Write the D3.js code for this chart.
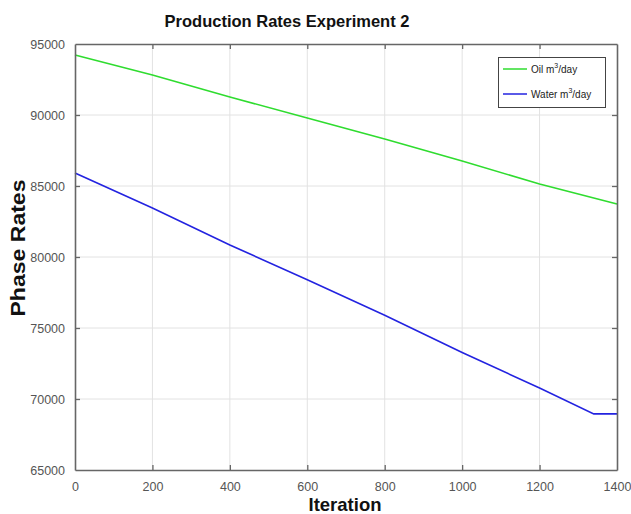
<!DOCTYPE html>
<html><head><meta charset="utf-8">
<script src="https://cdn.jsdelivr.net/npm/d3@7"></script>
<style>body{margin:0;background:#fff;} svg{display:block;}</style>
</head><body>
<script>
// Data
const iterations = [0, 200, 400, 600, 800, 1000, 1200, 1340, 1400];
const oilRates   = [94220, 92820, 91270, 89790, 88310, 86760, 85140, 84150, 83730];
const waterRates = [85920, 83450, 80850, 78400, 75900, 73280, 70770, 68950, 68950];
const xTicks = [0, 200, 400, 600, 800, 1000, 1200, 1400];
const yTicks = [65000, 70000, 75000, 80000, 85000, 90000, 95000];
const seriesNames = ["Oil", "Water"];
const seriesColors = ["#2fdc2f", "#2323e0"];

(function () {
const W = 631, H = 514;
const m = {left: 75, right: 14, top: 44, bottom: 44};
const svg = d3.select("body").append("svg").attr("width", W).attr("height", H)
  .style("font-family", "'Liberation Sans', Arial, sans-serif");

const x = d3.scaleLinear().domain([0, 1400]).range([m.left, W - m.right]);
const y = d3.scaleLinear().domain([65000, 95000]).range([H - m.bottom, m.top]);

// grid
svg.append("g").selectAll("line").data(xTicks.slice(1, -1)).join("line")
  .attr("x1", d => x(d)).attr("x2", d => x(d)).attr("y1", y(65000)).attr("y2", y(95000))
  .attr("stroke", "#e2e2e2").attr("stroke-width", 1);
svg.append("g").selectAll("line").data(yTicks.slice(1, -1)).join("line")
  .attr("y1", d => y(d)).attr("y2", d => y(d)).attr("x1", x(0)).attr("x2", x(1400))
  .attr("stroke", "#e2e2e2").attr("stroke-width", 1);

// lines
const line = d3.line().x((d, i) => x(iterations[i])).y(d => y(d));
[oilRates, waterRates].forEach((s, k) => {
  svg.append("path").datum(s).attr("d", line).attr("fill", "none")
    .attr("stroke", seriesColors[k]).attr("stroke-width", 1.6);
});

// axes (inward ticks, matlab style)
const axColor = "#666";
const gBottom = svg.append("g").attr("transform", `translate(0,${y(65000)})`)
  .call(d3.axisBottom(x).tickValues(xTicks).tickSizeInner(-5).tickSizeOuter(0).tickPadding(12).tickFormat(d3.format("d")));
const gTop = svg.append("g").attr("transform", `translate(0,${y(95000)})`)
  .call(d3.axisTop(x).tickValues(xTicks).tickSizeInner(-5).tickSizeOuter(0).tickFormat(""));
const gLeft = svg.append("g").attr("transform", `translate(${x(0)},0)`)
  .call(d3.axisLeft(y).tickValues(yTicks).tickSizeInner(-5).tickSizeOuter(0).tickPadding(10).tickFormat(d3.format("d")));
const gRight = svg.append("g").attr("transform", `translate(${x(1400)},0)`)
  .call(d3.axisRight(y).tickValues(yTicks).tickSizeInner(-5).tickSizeOuter(0).tickFormat(""));
[gBottom, gTop, gLeft, gRight].forEach(g => {
  g.select(".domain").attr("stroke", axColor).attr("stroke-width", 1.6);
  g.selectAll(".tick line").attr("stroke", axColor).attr("stroke-width", 1.3);
  g.selectAll(".tick text").attr("fill", "#555").style("font-size", "12.5px")
    .style("font-family", "'Liberation Sans', Arial, sans-serif");
});
[gBottom, gTop].forEach(g => g.selectAll(".tick line").filter(d => d === 0 || d === 1400).remove());
[gLeft, gRight].forEach(g => g.selectAll(".tick line").filter(d => d === 65000 || d === 95000).remove());

// title and labels
svg.append("text").attr("x", 287).attr("y", 27).attr("text-anchor", "middle")
  .style("font-size", "16.5px").style("font-weight", "bold").attr("fill", "#111")
  .text("Production Rates Experiment 2");
svg.append("text").attr("x", 345).attr("y", 511).attr("text-anchor", "middle")
  .style("font-size", "18.5px").style("font-weight", "bold").attr("fill", "#111")
  .text("Iteration");
svg.append("text").attr("transform", "translate(25,248) rotate(-90)").attr("text-anchor", "middle")
  .style("font-size", "20px").style("font-weight", "bold").attr("fill", "#111")
  .attr("textLength", 137).attr("lengthAdjust", "spacingAndGlyphs")
  .text("Phase Rates");

// legend
const lg = svg.append("g");
lg.append("rect").attr("x", 498.5).attr("y", 57.5).attr("width", 107).attr("height", 50)
  .attr("fill", "#fff").attr("stroke", "#444").attr("stroke-width", 1);
seriesNames.forEach((n, i) => {
  const ly = 69 + i * 25;
  lg.append("line").attr("x1", 503).attr("x2", 527).attr("y1", ly).attr("y2", ly)
    .attr("stroke", seriesColors[i]).attr("stroke-width", 1.5);
  const t = lg.append("text").attr("x", 531).attr("y", ly + 3.5).style("font-size", "10px").attr("fill", "#222");
  t.append("tspan").text(n + " m");
  t.append("tspan").attr("dy", -5).style("font-size", "7px").text("3");
  t.append("tspan").attr("dy", 5).text("/day");
});
})();
</script>
</body></html>
